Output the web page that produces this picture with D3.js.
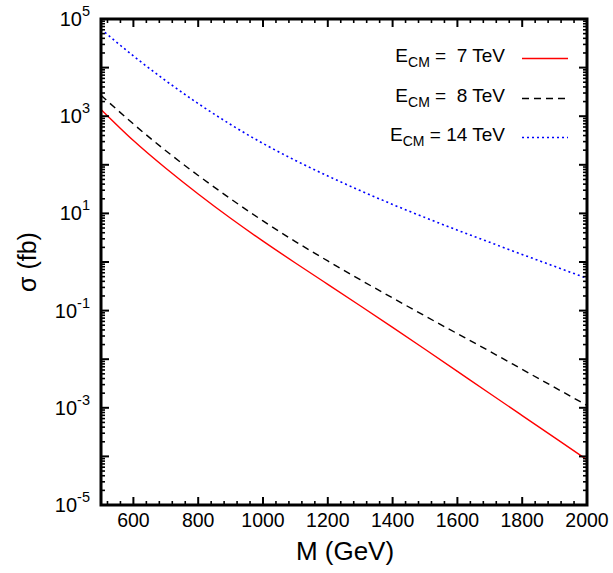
<!DOCTYPE html>
<html>
<head>
<meta charset="utf-8">
<script src="https://cdn.jsdelivr.net/npm/d3@7"></script>
<style>
  html, body { margin: 0; padding: 0; background: #fff; }
  svg { display: block; font-family: "Liberation Sans", Arial, sans-serif; }
  text { white-space: pre; }
</style>
</head>
<body>
<svg id="chart" width="613" height="573"></svg>
<script>
// ---- data ----
const massGeV = [500, 600, 700, 800, 900, 1000, 1100, 1200, 1300, 1400, 1500, 1600, 1700, 1800, 1900, 2000];
const sigma7TeV = [1380, 316, 85.1, 25.1, 7.94, 2.69, 0.955, 0.347, 0.126, 0.0452, 0.0160, 0.00562, 0.00197, 6.92e-4, 2.43e-4, 8.51e-5];
const sigma8TeV = [2690, 692, 195, 60.3, 20.0, 7.00, 2.63, 1.05, 0.432, 0.182, 0.0776, 0.0335, 0.0145, 0.00617, 0.00263, 0.00112];
const sigma14TeV = [61700, 17400, 5370, 1820, 676, 275, 123, 58.9, 29.5, 15.3, 8.22, 4.52, 2.54, 1.43, 0.813, 0.462];
const xTickLabels = [600, 800, 1000, 1200, 1400, 1600, 1800, 2000];
const yTickExponents = [-5, -3, -1, 1, 3, 5];
const seriesNames = ["7", "8", "14"];

const series = [
  { name: seriesNames[0], values: sigma7TeV, color: "#ff0000", dash: null, width: 1.4, pre: "=  " },
  { name: seriesNames[1], values: sigma8TeV, color: "#000000", dash: "7,5", width: 1.4, pre: "=  " },
  { name: seriesNames[2], values: sigma14TeV, color: "#0000ff", dash: "2,3", width: 1.6, pre: "= " }
];

const svg = d3.select("#chart");
const L = 101, R = 587, T = 19, B = 505;

const x = d3.scaleLinear().domain([500, 2000]).range([L, R]);
const y = d3.scaleLog().domain([1e-5, 1e5]).range([B, T]);

// ---- curves ----
const line = d3.line()
  .x(d => x(d[0]))
  .y(d => y(d[1]))
  .curve(d3.curveNatural);

svg.append("clipPath").attr("id", "clip")
  .append("rect").attr("x", L).attr("y", T).attr("width", R - L).attr("height", B - T);

series.forEach(s => {
  svg.append("path")
    .datum(massGeV.map((m, i) => [m, s.values[i]]))
    .attr("clip-path", "url(#clip)")
    .attr("fill", "none")
    .attr("stroke", s.color)
    .attr("stroke-width", s.width)
    .attr("stroke-dasharray", s.dash)
    .attr("d", line);
});

// ---- ticks (inward, mirrored) ----
const tickG = svg.append("g").attr("stroke", "#000");
const xMinor = d3.range(520, 2000, 40).filter(v => v % 200 !== 0);
const xMajor = d3.range(600, 2001, 200);
function xTick(v, len, w) {
  tickG.append("line").attr("x1", x(v)).attr("x2", x(v)).attr("y1", B).attr("y2", B - len).attr("stroke-width", w);
  tickG.append("line").attr("x1", x(v)).attr("x2", x(v)).attr("y1", T).attr("y2", T + len).attr("stroke-width", w);
}
xMinor.forEach(v => xTick(v, 4, 1.6));
xMajor.forEach(v => xTick(v, 8, 2));

function yTick(v, len, w) {
  tickG.append("line").attr("x1", L).attr("x2", L + len).attr("y1", y(v)).attr("y2", y(v)).attr("stroke-width", w);
  tickG.append("line").attr("x1", R).attr("x2", R - len).attr("y1", y(v)).attr("y2", y(v)).attr("stroke-width", w);
}
for (let e = -5; e < 5; e++) {
  for (let k = 2; k <= 9; k++) yTick(k * Math.pow(10, e), 4, 1.6);
}
for (let e = -5; e <= 5; e++) yTick(Math.pow(10, e), 8, 2);

// frame
svg.append("rect").attr("x", L).attr("y", T).attr("width", R - L).attr("height", B - T)
  .attr("fill", "none").attr("stroke", "#000").attr("stroke-width", 3);

// ---- tick labels ----
svg.append("g").selectAll("text").data(xTickLabels).join("text")
  .attr("x", d => x(d)).attr("y", 527)
  .attr("text-anchor", "middle")
  .attr("font-size", 19.5)
  .text(d => d);

const yl = svg.append("g").selectAll("text").data(yTickExponents).join("text")
  .attr("x", 90).attr("y", d => y(Math.pow(10, d)) + 7)
  .attr("text-anchor", "end")
  .attr("font-size", 20);
yl.append("tspan").text("10");
yl.append("tspan").attr("dy", -10).attr("font-size", 14.5).text(d => d);

// ---- axis titles ----
svg.append("text").attr("x", 345).attr("y", 560).attr("text-anchor", "middle")
  .attr("font-size", 26).text("M (GeV)");
svg.append("text").attr("transform", "translate(36,262) rotate(-90)")
  .attr("text-anchor", "middle").attr("font-size", 25).text("σ (fb)");

// ---- legend ----
const legRows = [58.5, 98.5, 137.5];
series.forEach((s, i) => {
  const yy = legRows[i];
  const t = svg.append("text").attr("x", 505).attr("y", yy + 3.5)
    .attr("text-anchor", "end").attr("font-size", 19);
  t.append("tspan").text("E");
  t.append("tspan").attr("font-size", 14).attr("dy", 5).text("CM");
  t.append("tspan").attr("dy", -5).text(" " + s.pre + s.name + " TeV");
  svg.append("line").attr("x1", 522).attr("x2", 568).attr("y1", yy).attr("y2", yy)
    .attr("stroke", s.color).attr("stroke-width", s.width)
    .attr("stroke-dasharray", s.dash);
});
</script>
</body>
</html>
